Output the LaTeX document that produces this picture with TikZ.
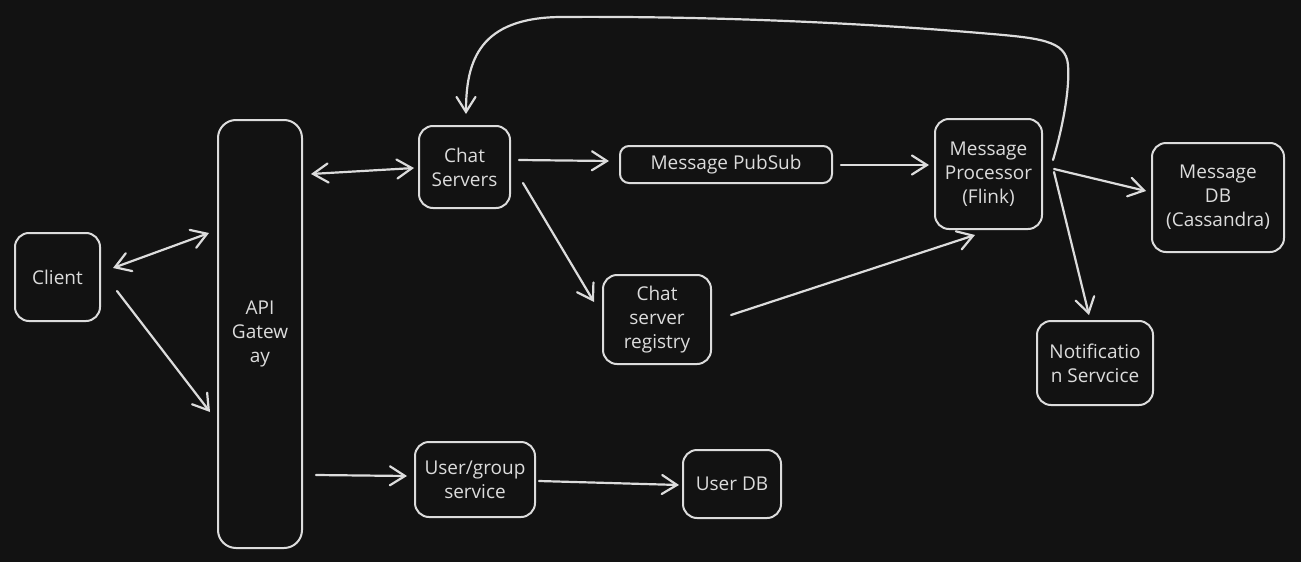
\documentclass[tikz,border=0pt]{standalone}
\usepackage{fontspec}
\setmainfont{Open Sans}
\usetikzlibrary{arrows.meta,calc}
\definecolor{bg}{HTML}{121212}
\definecolor{ink}{HTML}{DCDCDC}
\begin{document}
\begin{tikzpicture}[x=1pt,y=-1pt,
  box/.style={draw=ink,line width=2pt,rounded corners=14pt,inner sep=0pt,
    text=ink,align=center,font=\fontsize{19}{24}\selectfont},
  conn/.style={draw=ink,line width=2.2pt,line cap=round},
  >={Straight Barb[length=15pt,width=19pt,line cap=round]}]
\fill[bg] (0,0) rectangle (1301,562);
\useasboundingbox (0,0) rectangle (1301,562);
% nodes
\node[box,minimum width=85pt,minimum height=88pt] (client) at (57.5,277) {Client};
\node[box,minimum width=84pt,minimum height=428pt,rounded corners=18pt] (api) at (260,334) {API\\Gatew\\ay};
\node[box,minimum width=91pt,minimum height=82pt] (chat) at (464.5,167) {Chat\\Servers};
\node[box,minimum width=212pt,minimum height=37pt,rounded corners=9pt] (pubsub) at (726,164.5) {Message PubSub};
\node[box,minimum width=108pt,minimum height=89pt] (registry) at (657,319.5) {Chat\\server\\registry};
\node[box,minimum width=107pt,minimum height=110pt] (proc) at (988.5,174) {Message\\Processor\\(Flink)};
\node[box,minimum width=132pt,minimum height=109pt] (mdb) at (1218,197.5) {Message\\DB\\(Cassandra)};
\node[box,minimum width=116pt,minimum height=84pt] (notif) at (1095,363) {Notificatio\\n Servcice};
\node[box,minimum width=120pt,minimum height=75pt] (usr) at (475,479.5) {User/group\\service};
\node[box,minimum width=98pt,minimum height=68pt] (udb) at (732,484) {User DB};
% connectors
\draw[conn,<->] ($(client.east)+(12,-9)$) -- ($(api.west)+(-8,-101)$);
\draw[conn,->] ($(client.east)+(16,14)$) -- ($(api.west)+(-7,78)$);
\draw[conn,<->] ($(api.east)+(8,-160)$) -- ($(chat.west)+(-4,1)$);
\draw[conn,->] ($(chat.east)+(8,-7)$) -- ($(pubsub.west)+(-10,-3.5)$);
\draw[conn,->] ($(chat.east)+(12,16)$) -- ($(registry.west)+(-8,-17.5)$);
\draw[conn,->] ($(pubsub.east)+(8,0.5)$) -- ($(proc.west)+(-5,-9)$);
\draw[conn,->] ($(registry.east)+(19,-4.5)$) -- ($(proc.south)+(-13.5,5)$);
\draw[conn,->] ($(proc.east)+(11,-5)$) -- ($(mdb.west)+(-5,-6.5)$);
\draw[conn,->] ($(proc.east)+(11,-2)$) -- ($(notif.north)+(-6,-5)$);
\draw[conn,->] ($(api.east)+(13,141)$) -- ($(usr.west)+(-7,-3.5)$);
\draw[conn,->] ($(usr.east)+(3,1.5)$) -- ($(udb.west)+(-3,1)$);
\draw[conn,->] ($(proc.east)+(10,-14)$)
  .. controls (1062,130) and (1070,90) .. (1068,65)
  .. controls (1066,40) and (1040,38) .. (980,33)
  .. controls (850,22) and (700,16) .. (560,17)
  .. controls (480,18) and (466,60) .. ($(chat.north)+(1.5,-11)$);
\end{tikzpicture}
\end{document}
